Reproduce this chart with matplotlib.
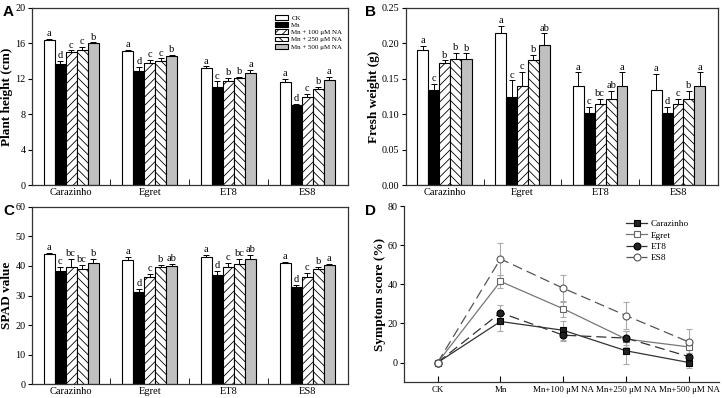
import numpy as np
import matplotlib.pyplot as plt
from matplotlib.patches import Patch

plt.rcParams['font.family'] = ['Liberation Serif', 'DejaVu Serif']
plt.rcParams['hatch.linewidth'] = 0.6

# Data
cultivars = ['Carazinho', 'Egret', 'ET8', 'ES8']
treatments = ['CK', 'Mn', 'Mn + 100 \u03bcM NA', 'Mn + 250 \u03bcM NA', 'Mn + 500 \u03bcM NA']

# Plant height (cm), rows = cultivars, cols = treatments
height = [[16.35, 13.7, 15.0, 15.3, 16.0],
          [15.1, 12.9, 13.75, 14.0, 14.6],
          [13.2, 11.1, 11.8, 12.1, 12.7],
          [11.6, 9.0, 9.9, 10.8, 11.9]]
height_err = [[0.2, 0.3, 0.2, 0.3, 0.1],
              [0.2, 0.4, 0.4, 0.3, 0.05],
              [0.2, 0.6, 0.3, 0.1, 0.35],
              [0.4, 0.2, 0.4, 0.3, 0.3]]
height_sig = [['a', 'd', 'c', 'c', 'b'],
              ['a', 'd', 'c', 'c', 'b'],
              ['a', 'c', 'b', 'b', 'a'],
              ['a', 'd', 'c', 'b', 'a']]

# Fresh weight (g)
weight = [[0.190, 0.134, 0.172, 0.178, 0.178],
          [0.214, 0.124, 0.140, 0.176, 0.198],
          [0.140, 0.102, 0.114, 0.122, 0.140],
          [0.134, 0.102, 0.114, 0.122, 0.140]]
weight_err = [[0.007, 0.009, 0.004, 0.009, 0.008],
              [0.011, 0.024, 0.020, 0.008, 0.016],
              [0.019, 0.008, 0.008, 0.011, 0.019],
              [0.023, 0.008, 0.008, 0.011, 0.019]]
weight_sig = [['a', 'c', 'b', 'b', 'b'],
              ['a', 'c', 'c', 'b', 'ab'],
              ['a', 'c', 'bc', 'ab', 'a'],
              ['a', 'd', 'c', 'b', 'a']]

# SPAD value
spad = [[44.0, 38.3, 39.8, 39.0, 41.0],
        [42.2, 31.2, 36.4, 39.5, 40.1],
        [42.9, 36.8, 39.5, 40.6, 42.4],
        [41.0, 32.8, 36.4, 38.9, 40.3]]
spad_err = [[0.4, 1.5, 2.7, 1.5, 1.4],
            [1.0, 0.9, 1.0, 0.9, 0.7],
            [0.8, 1.4, 1.4, 1.7, 1.2],
            [0.4, 0.8, 1.1, 0.8, 0.5]]
spad_sig = [['a', 'c', 'bc', 'bc', 'b'],
            ['a', 'd', 'c', 'b', 'ab'],
            ['a', 'd', 'c', 'bc', 'ab'],
            ['a', 'd', 'c', 'b', 'a']]

# Symptom score (%)
score_labels = ['CK', 'Mn', 'Mn+100 \u03bcM NA', 'Mn+250 \u03bcM NA', 'Mn+500 \u03bcM NA']
score_carazinho = [0, 21.0, 16.5, 6.0, 0.0]
score_egret = [0, 41.5, 27.5, 12.0, 8.0]
score_et8 = [0, 25.5, 14.0, 12.5, 3.0]
score_es8 = [0, 53.0, 38.0, 24.0, 10.5]
err_carazinho = [0, 4.7, 5.0, 7.0, 3.0]
err_egret = [0, 3.5, 4.0, 4.0, 3.0]
err_et8 = [0, 4.0, 3.0, 3.5, 2.0]
err_es8 = [0, 8.3, 6.8, 6.8, 6.8]

# Bar styles per treatment
faces = ['white', 'black', 'white', 'white', '#c0c0c0']
hatches = [None, None, '////', '\\\\\\\\', None]

fig = plt.figure(figsize=(7.22, 3.98), dpi=100)


def bar_panel(ax, values, errs, sigs, ylim, yticks, ylabel, fmt, offset):
    values = np.array(values)
    errs = np.array(errs)
    x = np.arange(len(cultivars))
    width = 0.14
    for j in range(len(treatments)):
        pos = x + (j - 2) * width
        ax.bar(pos, values[:, j], width, color=faces[j], edgecolor='black',
               hatch=hatches[j], linewidth=0.8, label=treatments[j], zorder=2)
        ax.errorbar(pos, values[:, j], yerr=[np.zeros(len(x)), errs[:, j]],
                    fmt='none', ecolor='black', elinewidth=0.7, capsize=2,
                    capthick=0.7, zorder=3)
        for i in range(len(x)):
            ax.text(pos[i], values[i, j] + errs[i, j] + offset, sigs[i][j],
                    ha='center', va='bottom', fontsize=7.5)
    ax.set_xlim(-0.5, 3.52)
    ax.set_ylim(*ylim)
    ax.set_yticks(yticks)
    ax.set_yticklabels([fmt.format(t) for t in yticks], fontsize=7.3)
    ax.set_xticks(x)
    ax.set_xticklabels(cultivars, fontsize=7.5)
    ax.tick_params(axis='x', length=0, pad=2)
    ax.set_xticks([0.5, 1.5, 2.5], minor=True)
    ax.tick_params(axis='x', which='minor', direction='in', length=4)
    ax.tick_params(axis='y', length=3, width=0.8, pad=1.5)
    ax.set_ylabel(ylabel, fontsize=9.5, fontweight='bold', labelpad=1.5)
    for s in ax.spines.values():
        s.set_linewidth(0.9)
        s.set_color('#333333')


# A: plant height
axA = fig.add_axes([0.044, 0.535, 0.438, 0.445])
bar_panel(axA, height, height_err, height_sig, (0, 20), [0, 4, 8, 12, 16, 20],
          'Plant height (cm)', '{:g}', 0.1)
handles = [Patch(facecolor=faces[j], edgecolor='black', hatch=hatches[j], linewidth=0.8)
           for j in range(len(treatments))]
axA.legend(handles, treatments, loc='upper right', frameon=False, fontsize=5,
           handlelength=2.0, handleheight=0.7, labelspacing=0.2, handletextpad=0.4,
           bbox_to_anchor=(0.995, 0.985), borderaxespad=0.2)

# B: fresh weight
axB = fig.add_axes([0.562, 0.535, 0.433, 0.445])
bar_panel(axB, weight, weight_err, weight_sig, (0, 0.25),
          [0, 0.05, 0.10, 0.15, 0.20, 0.25], 'Fresh weight (g)', '{:.2f}', 0.001)

# C: SPAD value
axC = fig.add_axes([0.044, 0.035, 0.438, 0.445])
bar_panel(axC, spad, spad_err, spad_sig, (0, 60), [0, 10, 20, 30, 40, 50, 60],
          'SPAD value', '{:g}', 0.3)

# D: symptom score
axD = fig.add_axes([0.560, 0.040, 0.436, 0.442])
xs = np.arange(len(score_labels))
series = [
    ('Carazinho', score_carazinho, err_carazinho, 's', '#222222', 'black', '-', '#333333'),
    ('Egret', score_egret, err_egret, 's', 'white', '#666666', '-', '#777777'),
    ('ET8', score_et8, err_et8, 'o', '#222222', 'black', (0, (8, 4)), '#333333'),
    ('ES8', score_es8, err_es8, 'o', 'white', '#555555', (0, (8, 4)), '#555555'),
]
for name, vals, errs, mk, mfc, mec, ls, lc in series:
    axD.errorbar(xs, vals, yerr=errs, fmt='none', ecolor='#aaaaaa',
                 elinewidth=0.8, capsize=2.5, capthick=0.8, zorder=1)
    axD.plot(xs, vals, linestyle=ls, color=lc, linewidth=0.9, marker=mk,
             markersize=5, markerfacecolor=mfc, markeredgecolor=mec,
             markeredgewidth=0.8, label=name, zorder=3)
axD.set_xlim(-0.53, 4.48)
axD.set_ylim(-10, 80)
axD.set_yticks([0, 20, 40, 60, 80])
axD.set_yticklabels(['0', '20', '40', '60', '80'], fontsize=7.3)
axD.set_xticks(xs)
axD.set_xticklabels(score_labels, fontsize=6.4)
axD.tick_params(axis='x', direction='in', length=4, pad=3)
axD.tick_params(axis='y', length=3, width=0.8, pad=1.5)
axD.spines['top'].set_visible(False)
axD.spines['right'].set_visible(False)
for s in ['left', 'bottom']:
    axD.spines[s].set_linewidth(0.9)
    axD.spines[s].set_color('#333333')
axD.set_ylabel('Symptom score (%)', fontsize=9.5, fontweight='bold', labelpad=1.5)
axD.legend(loc='upper right', frameon=False, fontsize=6.7, handlelength=2.2,
           labelspacing=0.3, handletextpad=0.4, bbox_to_anchor=(0.93, 0.97))

# Panel letters
for label, xp, yp in [('A', 0.004, 0.97), ('B', 0.506, 0.97),
                      ('C', 0.004, 0.47), ('D', 0.506, 0.47)]:
    fig.text(xp, yp, label, fontsize=11, fontweight='bold',
             family=['Liberation Sans', 'DejaVu Sans'], va='center')

plt.savefig('out.png', dpi=100)
